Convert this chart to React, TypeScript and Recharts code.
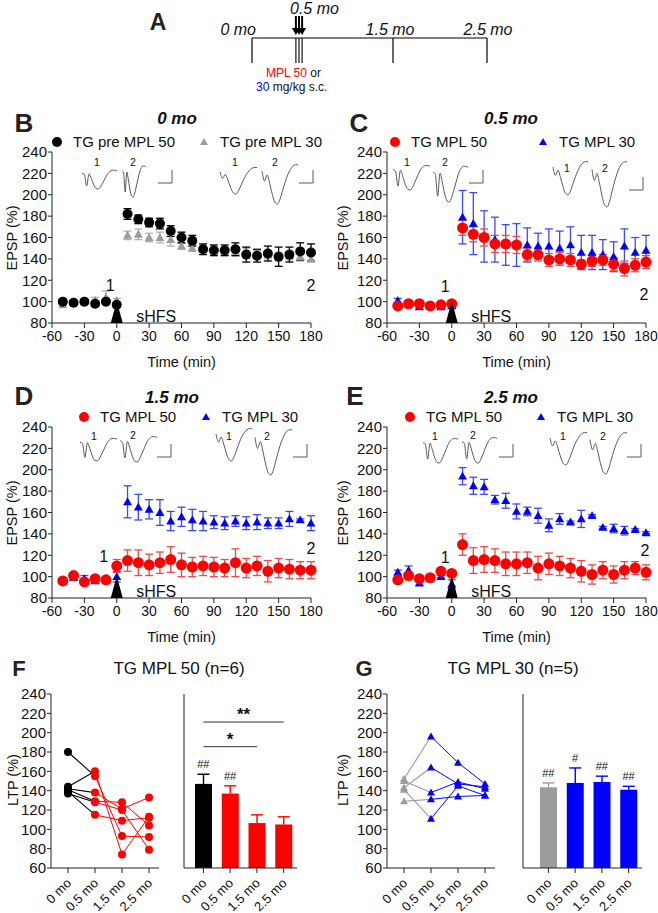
import React from "react";
import {
  ComposedChart,
  Scatter,
  ErrorBar,
  XAxis,
  YAxis,
  ReferenceDot,
  ReferenceLine,
  LineChart,
  Line,
  BarChart,
  Bar,
} from "recharts";

const FONT = "'Liberation Sans', Arial, Helvetica, sans-serif";
const RED = "#ff0000";
const RED_ERR = "#f04848";
const BLUE = "#0000ff";
const BLUE_ERR = "#3a4cf2";
const GRAY = "#9c9c9c";
const INK = "#111";
const TRACE = "#5a5a5a";

// ---- panel A timeline ----
const TIMELINE_MONTHS = [0, 0.5, 1.5, 2.5];
const TICK_MONTHS = [0, 1.5, 2.5];
const INJECTION_MONTHS = [0.467, 0.5, 0.533];

// ---- time course panels B-E ----
const TIMES = [-50, -40, -30, -20, -10, 0, 10, 20, 30, 40, 50, 60, 70, 80, 90, 100, 110, 120, 130, 140, 150, 160, 170, 180];
const TIME_TICKS = [-60, -30, 0, 30, 60, 90, 120, 150, 180];
const EPSP_TICKS = [80, 100, 120, 140, 160, 180, 200, 220, 240];

const B_PRE50 = [100, 99, 100, 98, 100, 97, 182, 177, 174, 173, 166, 160, 157, 149, 148, 148, 149, 144, 143, 145, 142, 144, 147, 146];
const B_PRE50_ERR = [2, 1, 1, 2, 2, 2, 5, 4, 4, 5, 5, 5, 5, 5, 5, 5, 6, 7, 6, 7, 9, 7, 8, 8];
const B_PRE30 = [97, 99, 100, 101, 104, 101, 162, 163, 160, 160, 158, 152, 150, 149, 147, 147, 147, 146, 145, 144, 142, 143, 142, 140];
const B_PRE30_ERR = [2, 1, 2, 3, 6, 2, 4, 5, 4, 5, 6, 3, 3, 3, 3, 3, 4, 4, 3, 4, 4, 4, 4, 3];

const C_MPL50 = [96, 98, 98, 96, 97, 98, 169, 163, 160, 154, 154, 153, 144, 144, 139, 140, 139, 135, 138, 139, 135, 131, 134, 137];
const C_MPL50_ERR = [1, 1, 1, 1, 1, 1, 7, 7, 8, 8, 8, 8, 6, 6, 6, 6, 6, 4, 5, 5, 6, 7, 6, 6];
const C_MPL30 = [101, 98, 95, 96, 95, 96, 179, 173, 161, 158, 153, 153, 153, 152, 152, 150, 153, 146, 146, 144, 142, 152, 146, 148];
const C_MPL30_ERR = [2, 1, 2, 1, 2, 2, 25, 29, 24, 21, 19, 20, 16, 12, 16, 16, 17, 16, 16, 14, 14, 16, 14, 14];

const D_MPL50 = [96, 101, 95, 98, 97, 110, 115, 113, 111, 113, 116, 111, 109, 110, 109, 108, 113, 108, 110, 105, 108, 107, 106, 106];
const D_MPL50_ERR = [2, 2, 2, 2, 3, 6, 10, 12, 10, 10, 12, 11, 9, 9, 9, 8, 13, 9, 9, 10, 9, 9, 8, 8];
const D_MPL30 = [96, 99, 98, 96, 97, 100, 170, 165, 163, 160, 152, 156, 153, 152, 151, 150, 152, 150, 151, 150, 150, 154, 153, 150];
const D_MPL30_ERR = [1, 2, 3, 2, 3, 5, 15, 12, 9, 12, 9, 9, 10, 9, 6, 6, 5, 6, 7, 5, 5, 7, 1, 7];

const E_MPL50 = [97, 101, 98, 99, 105, 103, 130, 115, 116, 115, 112, 112, 113, 108, 112, 110, 108, 105, 102, 106, 102, 106, 108, 104];
const E_MPL50_ERR = [2, 2, 2, 2, 1, 1, 10, 12, 12, 11, 11, 11, 10, 11, 10, 9, 9, 10, 9, 8, 8, 8, 6, 7];
const E_MPL30 = [104, 106, 94, 98, 100, 93, 194, 185, 184, 172, 171, 161, 161, 157, 148, 154, 151, 154, 157, 146, 145, 143, 144, 141];
const E_MPL30_ERR = [2, 4, 2, 1, 1, 4, 8, 8, 7, 4, 7, 7, 4, 7, 6, 5, 1, 8, 1, 1, 4, 4, 1, 1];

// annotation labels (text, time, value)
const B_MARKS = [{ text: "1", t: -6, v: 116 }, { text: "2", t: 180, v: 116 }];
const C_MARKS = [{ text: "1", t: -6, v: 115 }, { text: "2", t: 178, v: 107 }];
const D_MARKS = [{ text: "1", t: -12, v: 119 }, { text: "2", t: 180, v: 127 }];
const E_MARKS = [{ text: "1", t: -6, v: 118 }, { text: "2", t: 179, v: 125 }];

// example fEPSP traces (relative amplitude, evenly sampled)
const TRACE_ARTIFACT = [0.3, 0.2, -0.75, 0.25, -0.15, -0.65, -0.95, -1.0, -0.8, -0.45, -0.1, 0.25, 0.45, 0.55, 0.55, 0.5];
const TRACE_SMOOTH = [0.35, -0.05, 0.2, -0.15, -0.6, -0.92, -1.0, -0.8, -0.45, -0.1, 0.2, 0.42, 0.56, 0.62, 0.62];

// ---- LTP summary panels F, G ----
const MONTHS = ["0 mo", "0.5 mo", "1.5 mo", "2.5 mo"];
const LTP_TICKS = [60, 80, 100, 120, 140, 160, 180, 200, 220, 240];

const F_ANIMALS = [
  [180, 155, 93, 92],
  [144, 160, 74, 113],
  [142, 138, 121, 133],
  [141, 129, 128, 104],
  [139, 115, 109, 112],
  [137, 128, 120, 79],
];
const F_MEAN = [147, 137, 106.5, 105];
const F_SEM = [10, 8, 8.5, 8];
const F_HASH = ["##", "##", "", ""];
const F_BRACKETS = [
  { from: "0 mo", to: "2.5 mo", v: 211, text: "**" },
  { from: "0 mo", to: "1.5 mo", v: 185.5, text: "*" },
];

const G_ANIMALS = [
  [152, 196, 169, 147],
  [150, 138, 149, 142],
  [143, 164, 147, 144],
  [129, 131, 134, 135],
  [141, 111, 145, 135],
];
const G_MEAN = [143.5, 148, 149, 141];
const G_SEM = [4.5, 15.5, 6, 3.5];
const G_HASH = ["##", "#", "##", "##"];

type Kind = "circle" | "triangle";

function markerEl(kind: Kind, cx: number, cy: number, size: number, color: string, key?: any) {
  if (kind === "circle") return <circle key={key} cx={cx} cy={cy} r={size} fill={color} />;
  return (
    <polygon
      key={key}
      points={`${cx},${cy - size} ${cx - size},${cy + size * 0.75} ${cx + size},${cy + size * 0.75}`}
      fill={color}
    />
  );
}

interface SeriesDef {
  name: string;
  values: number[];
  errs: number[];
  color: string;
  errColor: string;
  kind: Kind;
  size: number;
}

const arrowShape = (p: any) => (
  <polygon points={`${p.cx},${p.cy - 22} ${p.cx - 6},${p.cy} ${p.cx + 6},${p.cy}`} fill="#000" />
);

function TimeCourse({
  plotLeft,
  plotTop,
  series,
  marks,
}: {
  plotLeft: number;
  plotTop: number;
  series: SeriesDef[];
  marks: { text: string; t: number; v: number }[];
}) {
  const YW = 52;
  const MT = 14;
  const PH = 171;
  const PW = 259;
  const XH = 52;
  const MR = 16;
  return (
    <div style={{ position: "absolute", left: plotLeft - YW, top: plotTop - MT }}>
      <ComposedChart
        width={YW + PW + MR}
        height={MT + PH + XH}
        margin={{ top: MT, right: MR, bottom: 0, left: 0 }}
      >
        <XAxis
          type="number"
          dataKey="t"
          domain={[-60, 180]}
          ticks={TIME_TICKS}
          interval={0}
          tickSize={5}
          tickMargin={3}
          height={XH}
          stroke="#222"
          tick={{ fontSize: 14, fill: INK, fontFamily: FONT }}
          label={{ value: "Time (min)", position: "insideBottom", offset: 8, fontSize: 14.5, fill: INK, fontFamily: FONT }}
        />
        <YAxis
          type="number"
          dataKey="v"
          domain={[80, 240]}
          ticks={EPSP_TICKS}
          interval={0}
          tickSize={4}
          tickMargin={1}
          width={YW}
          stroke="#222"
          tick={{ fontSize: 15, fill: INK, fontFamily: FONT }}
        />
        {series.map((s) => (
          <Scatter
            key={s.name}
            name={s.name}
            data={TIMES.map((t, i) => ({ t, v: s.values[i], e: s.errs[i] }))}
            dataKey="v"
            shape={(p: any) => markerEl(s.kind, p.cx, p.cy, s.size, s.color)}
            isAnimationActive={false}
          >
            <ErrorBar dataKey="e" direction="y" width={4} stroke={s.errColor} strokeWidth={1.3} />
          </Scatter>
        ))}
        <ReferenceDot x={0} y={80} r={0} ifOverflow="visible" shape={arrowShape} />
        <ReferenceDot
          x={18}
          y={87}
          r={0}
          ifOverflow="visible"
          shape={(p: any) => (
            <text x={p.cx} y={p.cy + 6} fontSize={16} fontFamily={FONT} fill={INK}>
              sHFS
            </text>
          )}
        />
        {marks.map((m) => (
          <ReferenceDot
            key={m.text}
            x={m.t}
            y={m.v}
            r={0}
            ifOverflow="visible"
            shape={(p: any) => (
              <text x={p.cx} y={p.cy + 6} fontSize={16} textAnchor="middle" fontFamily={FONT} fill={INK}>
                {m.text}
              </text>
            )}
          />
        ))}
      </ComposedChart>
    </div>
  );
}

// one small example trace drawn in its own box
function Trace({ x, y, w, h, values }: { x: number; y: number; w: number; h: number; values: number[] }) {
  const rows = values.map((v, i) => ({ i, v }));
  return (
    <div style={{ position: "absolute", left: x, top: y }}>
      <LineChart width={w} height={h} data={rows} margin={{ top: 1, right: 1, bottom: 1, left: 1 }}>
        <XAxis type="number" dataKey="i" domain={[0, values.length - 1]} hide />
        <YAxis type="number" domain={[-1, 0.65]} hide />
        <Line dataKey="v" type="monotone" stroke={TRACE} strokeWidth={1} dot={false} isAnimationActive={false} />
      </LineChart>
    </div>
  );
}

interface InsetDef {
  left: number[]; // x, y, w, h for trace 1
  left2: number[];
  right: number[];
  right2: number[];
}

function Insets({ d }: { d: InsetDef }) {
  return (
    <>
      <Trace x={d.left[0]} y={d.left[1]} w={d.left[2]} h={d.left[3]} values={TRACE_ARTIFACT} />
      <Trace x={d.left2[0]} y={d.left2[1]} w={d.left2[2]} h={d.left2[3]} values={TRACE_ARTIFACT} />
      <Trace x={d.right[0]} y={d.right[1]} w={d.right[2]} h={d.right[3]} values={TRACE_SMOOTH} />
      <Trace x={d.right2[0]} y={d.right2[1]} w={d.right2[2]} h={d.right2[3]} values={TRACE_SMOOTH} />
    </>
  );
}

const B_INSET: InsetDef = { left: [81, 168, 37, 22], left2: [121, 163, 26, 35], right: [219, 166, 39, 29], right2: [261, 163, 38, 42] };
const C_INSET: InsetDef = { left: [392, 163, 39, 28], left2: [432, 163, 37, 40], right: [552, 160, 37, 36], right2: [591, 160, 37, 48] };
const D_INSET: InsetDef = { left: [79, 436, 39, 26], left2: [119, 434, 39, 29], right: [215, 427, 38, 35], right2: [254, 428, 39, 48] };
const E_INSET: InsetDef = { left: [422, 436, 37, 28], left2: [461, 435, 37, 29], right: [549, 431, 39, 35], right2: [589, 431, 39, 44] };

function RotTick(props: any) {
  const { x, y, payload } = props;
  const ax = x + 4;
  const ay = y + 9;
  return (
    <text
      x={ax}
      y={ay}
      transform={`rotate(-45 ${ax} ${ay})`}
      textAnchor="end"
      fontSize={13}
      fontFamily={FONT}
      fill={INK}
    >
      {payload.value}
    </text>
  );
}

const LTP_TOP = 694;
const LTP_H = 174;

function PairedPlot({
  plotLeft,
  animals,
  preColor,
  postColor,
  kind,
  size,
}: {
  plotLeft: number;
  animals: number[][];
  preColor: string;
  postColor: string;
  kind: Kind;
  size: number;
}) {
  const YW = 50;
  const MT = 10;
  const PW = 108;
  const XH = 50;
  const rows = MONTHS.map((m, j) => {
    const r: any = { m };
    animals.forEach((a, i) => {
      if (j <= 1) r["p" + i] = a[j];
      if (j >= 1) r["q" + i] = a[j];
    });
    return r;
  });
  return (
    <div style={{ position: "absolute", left: plotLeft - YW, top: LTP_TOP - MT }}>
      <LineChart width={YW + PW + 4} height={MT + LTP_H + XH} data={rows} margin={{ top: MT, right: 4, bottom: 0, left: 0 }}>
        <XAxis
          dataKey="m"
          type="category"
          interval={0}
          padding={{ left: 17, right: 10 }}
          tickSize={5}
          height={XH}
          stroke="#222"
          tick={<RotTick />}
        />
        <YAxis
          type="number"
          domain={[60, 240]}
          ticks={LTP_TICKS}
          interval={0}
          tickSize={4}
          tickMargin={1}
          width={YW}
          stroke="#222"
          tick={{ fontSize: 15, fill: INK, fontFamily: FONT }}
        />
        {animals.map((_, i) => (
          <Line
            key={"p" + i}
            dataKey={"p" + i}
            stroke={preColor}
            strokeWidth={1.1}
            isAnimationActive={false}
            dot={(p: any) =>
              p.index === 0 && p.cy != null ? markerEl(kind, p.cx, p.cy, size, preColor, p.key) : <g key={p.key} />
            }
          />
        ))}
        {animals.map((_, i) => (
          <Line
            key={"q" + i}
            dataKey={"q" + i}
            stroke={postColor}
            strokeWidth={1}
            isAnimationActive={false}
            dot={(p: any) =>
              p.cy != null ? markerEl(kind, p.cx, p.cy, size, postColor, p.key) : <g key={p.key} />
            }
          />
        ))}
      </LineChart>
    </div>
  );
}

function BarPlot({
  plotLeft,
  padLeft,
  means,
  sems,
  colors,
  hashes,
  brackets,
}: {
  plotLeft: number;
  padLeft: number;
  means: number[];
  sems: number[];
  colors: string[];
  hashes: string[];
  brackets: { from: string; to: string; v: number; text: string }[];
}) {
  const YW = 10;
  const MT = 10;
  const PW = padLeft + 107;
  const XH = 50;
  const rows = MONTHS.map((m, i) => ({ m, v: means[i], e: sems[i], top: means[i] + sems[i], hash: hashes[i] }));
  const shape = (p: any) => {
    const { x, y, width, height, payload } = p;
    const c = colors[MONTHS.indexOf(payload.m)];
    const k = height / (payload.v - 60);
    const ty = y - payload.e * k;
    const cx = x + width / 2;
    return (
      <g>
        <rect x={x} y={y} width={width} height={height} fill={c} />
        <line x1={cx} x2={cx} y1={y} y2={ty} stroke={c} strokeWidth={1.4} />
        <line x1={cx - 6} x2={cx + 6} y1={ty} y2={ty} stroke={c} strokeWidth={1.4} />
      </g>
    );
  };
  return (
    <div style={{ position: "absolute", left: plotLeft - YW, top: LTP_TOP - MT }}>
      <BarChart width={YW + PW + 4} height={MT + LTP_H + XH} data={rows} margin={{ top: MT, right: 4, bottom: 0, left: 0 }}>
        <XAxis
          dataKey="m"
          type="category"
          interval={0}
          padding={{ left: padLeft, right: 0 }}
          tickSize={5}
          height={XH}
          stroke="#222"
          tick={<RotTick />}
        />
        <YAxis
          type="number"
          domain={[60, 240]}
          ticks={LTP_TICKS}
          interval={0}
          tickSize={5}
          width={YW}
          stroke="#222"
          tick={false}
        />
        <Bar dataKey="v" barSize={17} shape={shape} isAnimationActive={false} />
        {rows
          .filter((r) => r.hash)
          .map((r) => (
            <ReferenceDot
              key={r.m}
              x={r.m}
              y={r.top}
              r={0}
              ifOverflow="visible"
              shape={(p: any) => (
                <text x={p.cx} y={p.cy - 6} fontSize={11} textAnchor="middle" fontFamily={FONT} fill={INK}>
                  {r.hash}
                </text>
              )}
            />
          ))}
        {brackets.map((b) => (
          <ReferenceLine
            key={b.text}
            segment={[
              { x: b.from, y: b.v },
              { x: b.to, y: b.v },
            ]}
            stroke="#333"
            strokeWidth={1}
            ifOverflow="visible"
            label={{ value: b.text, position: "top", offset: 2, fontSize: 17, fontWeight: "bold", fill: INK, fontFamily: FONT }}
          />
        ))}
      </BarChart>
    </div>
  );
}

function Timeline() {
  const rows = TIMELINE_MONTHS.map((m) => ({ m, level: 1 }));
  const injArrow = (p: any) => (
    <g>
      <line x1={p.cx} x2={p.cx} y1={p.cy - 22} y2={p.cy - 9} stroke="#000" strokeWidth={2} />
      <polygon points={`${p.cx - 4},${p.cy - 10} ${p.cx + 4},${p.cy - 10} ${p.cx},${p.cy - 3}`} fill="#000" />
    </g>
  );
  return (
    <div style={{ position: "absolute", left: 0, top: 0 }}>
      <LineChart width={658} height={100} data={rows} margin={{ top: 38, right: 171, bottom: 37, left: 252 }}>
        <XAxis type="number" dataKey="m" domain={[0, 2.5]} hide />
        <YAxis type="number" domain={[0, 1]} hide />
        <Line dataKey="level" stroke="#000" strokeWidth={1.2} dot={false} isAnimationActive={false} />
        {TICK_MONTHS.map((m) => (
          <ReferenceLine key={m} segment={[{ x: m, y: 0 }, { x: m, y: 1 }]} stroke="#000" strokeWidth={1.2} />
        ))}
        {INJECTION_MONTHS.map((m) => (
          <ReferenceLine key={"i" + m} segment={[{ x: m, y: 0 }, { x: m, y: 1 }]} stroke="#000" strokeWidth={1.1} />
        ))}
        {INJECTION_MONTHS.map((m) => (
          <ReferenceDot key={"a" + m} x={m} y={1} r={0} ifOverflow="visible" shape={injArrow} />
        ))}
      </LineChart>
    </div>
  );
}

function LegendItem({ x, y, kind, color, label, size }: { x: number; y: number; kind: Kind; color: string; label: string; size: number }) {
  return (
    <g>
      {markerEl(kind, x, y, size, color)}
      <text x={x + 16} y={y + 5} fontSize={15} fontFamily={FONT} fill={INK}>
        {label}
      </text>
    </g>
  );
}

function Overlay() {
  const letter = (t: string, x: number, y: number, s: number) => (
    <text x={x} y={y} fontSize={s} fontWeight="bold" textAnchor="middle" fontFamily={FONT} fill="#222">
      {t}
    </text>
  );
  const title = (t: string, x: number, y: number) => (
    <text x={x} y={y} fontSize={17} fontWeight="bold" fontStyle="italic" textAnchor="middle" fontFamily={FONT} fill={INK}>
      {t}
    </text>
  );
  const ylab = (t: string, x: number, y: number) => (
    <text x={x} y={y} fontSize={14.5} textAnchor="middle" fontFamily={FONT} fill={INK} transform={`rotate(-90 ${x} ${y})`} dy="0.35em">
      {t}
    </text>
  );
  const mo = (t: string, x: number, y: number, anchor: string) => (
    <text x={x} y={y} fontSize={16} fontStyle="italic" textAnchor={anchor as any} fontFamily={FONT} fill={INK}>
      {t}
    </text>
  );
  const scaleBar = (x: number, y: number) => (
    <path d={`M${x + 14},${y} L${x + 14},${y + 13} L${x},${y + 13}`} stroke={TRACE} strokeWidth={1} fill="none" />
  );
  const small = (t: string, x: number, y: number) => (
    <text x={x} y={y} fontSize={10.5} textAnchor="middle" fontFamily={FONT} fill={INK}>
      {t}
    </text>
  );
  return (
    <svg width={658} height={913} style={{ position: "absolute", left: 0, top: 0, pointerEvents: "none" }}>
      {letter("A", 158, 30, 23)}
      {mo("0 mo", 256, 35, "end")}
      {mo("0.5 mo", 290, 14, "start")}
      {mo("1.5 mo", 390, 35, "middle")}
      {mo("2.5 mo", 488, 35, "middle")}
      <text x={266} y={77} fontSize={12} fontFamily={FONT} fill={INK}>
        <tspan fill={RED}>MPL 50</tspan> or
      </text>
      <text x={256} y={91} fontSize={12} fontFamily={FONT} fill={INK}>
        <tspan fill={BLUE}>30</tspan> mg/kg s.c.
      </text>

      {letter("B", 24, 132, 26)}
      {title("0 mo", 177, 124)}
      <LegendItem x={57} y={142} kind="circle" color="#000" label="TG pre MPL 50" size={5} />
      <LegendItem x={204} y={142} kind="triangle" color={GRAY} label="TG pre MPL 30" size={4} />
      {ylab("EPSP (%)", 12, 238)}
      {small("1", 97, 166)}
      {small("2", 133, 166)}
      {small("1", 235, 166)}
      {small("2", 275, 166)}
      {scaleBar(158, 170)}
      {scaleBar(299, 170)}

      {letter("C", 359, 132, 26)}
      {title("0.5 mo", 511, 124)}
      <LegendItem x={395} y={142} kind="circle" color={RED} label="TG MPL 50" size={5} />
      <LegendItem x={543} y={142} kind="triangle" color={BLUE} label="TG MPL 30" size={4} />
      {ylab("EPSP (%)", 343, 238)}
      {small("1", 407, 166)}
      {small("2", 445, 166)}
      {small("1", 567, 172)}
      {small("2", 605, 172)}
      {scaleBar(469, 170)}
      {scaleBar(629, 177)}

      {letter("D", 24, 405, 26)}
      {title("1.5 mo", 172, 403)}
      <LegendItem x={84} y={417} kind="circle" color={RED} label="TG MPL 50" size={5} />
      <LegendItem x={206} y={417} kind="triangle" color={BLUE} label="TG MPL 30" size={4} />
      {ylab("EPSP (%)", 12, 513)}
      {small("1", 94, 440)}
      {small("2", 133, 439)}
      {small("1", 229, 440)}
      {small("2", 267, 440)}
      {scaleBar(157, 444)}
      {scaleBar(293, 444)}

      {letter("E", 355, 405, 26)}
      {title("2.5 mo", 511, 403)}
      <LegendItem x={410} y={417} kind="circle" color={RED} label="TG MPL 50" size={5} />
      <LegendItem x={541} y={417} kind="triangle" color={BLUE} label="TG MPL 30" size={4} />
      {ylab("EPSP (%)", 343, 513)}
      {small("1", 435, 440)}
      {small("2", 473, 439)}
      {small("1", 563, 440)}
      {small("2", 603, 440)}
      {scaleBar(499, 444)}
      {scaleBar(627, 444)}

      {letter("F", 19, 676, 22)}
      <text x={179} y={674} fontSize={17} textAnchor="middle" fontFamily={FONT} fill={INK}>
        TG MPL 50 (n=6)
      </text>
      {ylab("LTP (%)", 13, 780)}

      {letter("G", 364, 676, 22)}
      <text x={513} y={674} fontSize={17} textAnchor="middle" fontFamily={FONT} fill={INK}>
        TG MPL 30 (n=5)
      </text>
      {ylab("LTP (%)", 343, 780)}
    </svg>
  );
}

export default function App() {
  return (
    <div style={{ position: "absolute", left: 0, top: 0, width: 658, height: 913, background: "#fff", fontFamily: FONT }}>
      <Timeline />
      <TimeCourse
        plotLeft={52}
        plotTop={152}
        marks={B_MARKS}
        series={[
          { name: "TG pre MPL 30", values: B_PRE30, errs: B_PRE30_ERR, color: GRAY, errColor: "#b0b0b0", kind: "triangle", size: 4.5 },
          { name: "TG pre MPL 50", values: B_PRE50, errs: B_PRE50_ERR, color: "#000", errColor: "#000", kind: "circle", size: 5 },
        ]}
      />
      <TimeCourse
        plotLeft={387}
        plotTop={152}
        marks={C_MARKS}
        series={[
          { name: "TG MPL 30", values: C_MPL30, errs: C_MPL30_ERR, color: BLUE, errColor: BLUE_ERR, kind: "triangle", size: 4.5 },
          { name: "TG MPL 50", values: C_MPL50, errs: C_MPL50_ERR, color: RED, errColor: RED_ERR, kind: "circle", size: 5.5 },
        ]}
      />
      <TimeCourse
        plotLeft={52}
        plotTop={427}
        marks={D_MARKS}
        series={[
          { name: "TG MPL 30", values: D_MPL30, errs: D_MPL30_ERR, color: BLUE, errColor: BLUE_ERR, kind: "triangle", size: 4.5 },
          { name: "TG MPL 50", values: D_MPL50, errs: D_MPL50_ERR, color: RED, errColor: RED_ERR, kind: "circle", size: 5.5 },
        ]}
      />
      <TimeCourse
        plotLeft={387}
        plotTop={427}
        marks={E_MARKS}
        series={[
          { name: "TG MPL 30", values: E_MPL30, errs: E_MPL30_ERR, color: BLUE, errColor: BLUE_ERR, kind: "triangle", size: 4.5 },
          { name: "TG MPL 50", values: E_MPL50, errs: E_MPL50_ERR, color: RED, errColor: RED_ERR, kind: "circle", size: 5.5 },
        ]}
      />
      <Insets d={B_INSET} />
      <Insets d={C_INSET} />
      <Insets d={D_INSET} />
      <Insets d={E_INSET} />
      <PairedPlot plotLeft={51} animals={F_ANIMALS} preColor="#000" postColor={RED} kind="circle" size={4} />
      <BarPlot
        plotLeft={184}
        padLeft={6}
        means={F_MEAN}
        sems={F_SEM}
        colors={["#000", RED, RED, RED]}
        hashes={F_HASH}
        brackets={F_BRACKETS}
      />
      <PairedPlot plotLeft={387} animals={G_ANIMALS} preColor={GRAY} postColor={BLUE} kind="triangle" size={4} />
      <BarPlot
        plotLeft={523}
        padLeft={12}
        means={G_MEAN}
        sems={G_SEM}
        colors={[GRAY, BLUE, BLUE, BLUE]}
        hashes={G_HASH}
        brackets={[]}
      />
      <Overlay />
    </div>
  );
}
